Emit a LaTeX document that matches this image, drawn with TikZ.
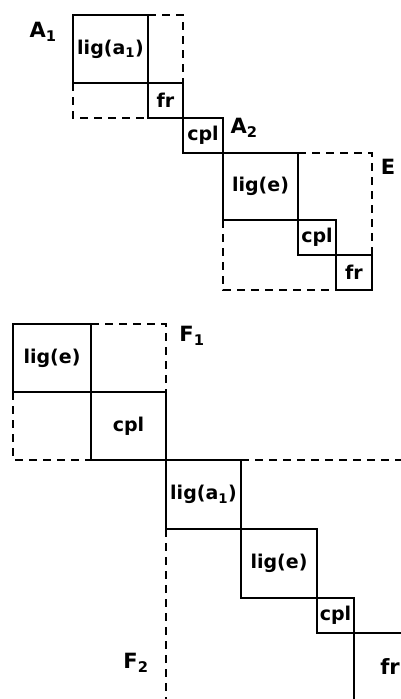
\documentclass[tikz,border=0pt]{standalone}
\usepackage{fontspec}
\setmainfont{DejaVu Sans}
\begin{document}
\begin{tikzpicture}[x=1pt,y=-1pt,
  blk/.style={draw, line width=2.6pt, anchor=north west, inner sep=0pt, outer sep=0pt,
    font=\fontsize{19}{21}\selectfont\bfseries},
  dsh/.style={line width=2.6pt, dash pattern=on 8pt off 6pt},
  sol/.style={line width=2.6pt},
  lbl/.style={font=\fontsize{21}{23}\selectfont\bfseries, inner sep=0pt}]
\useasboundingbox (0,0) rectangle (401,699);
\coordinate (rb) at (401,699);
% top diagram
\node[blk, minimum width=75pt, minimum height=68pt] (la1) at (73,15) {lig(a\textsubscript{1})};
\node[blk, minimum width=35pt, minimum height=35pt] (fr1) at (148,83) {fr};
\node[blk, minimum width=40pt, minimum height=35pt] (cpl1) at (183,118) {cpl};
\node[blk, minimum width=75pt, minimum height=67pt] (lige1) at (223,153) {lig(e)};
\node[blk, minimum width=38pt, minimum height=35pt] (cpl2) at (298,220) {cpl};
\node[blk, minimum width=36pt, minimum height=35pt] (fr2) at (336,255) {fr};
\draw[dsh] (la1.north east) -- (la1.north east -| fr1.east) -- (fr1.north east);
\draw[dsh] (la1.south west) -- (la1.west |- fr1.south) -- (fr1.south west);
\draw[dsh] (lige1.north east) -- (lige1.north east -| fr2.east) -- (fr2.north east);
\draw[dsh] (lige1.south west) -- (lige1.west |- fr2.south) -- (fr2.south west);
\node[lbl] (A1) at (43,32) {A\textsubscript{1}};
\node[lbl] (A2) at (244,128) {A\textsubscript{2}};
\node[lbl] (E) at (388,167) {E};
% bottom diagram
\node[blk, minimum width=78pt, minimum height=68pt] (lige3) at (13,324) {lig(e)};
\node[blk, minimum width=75pt, minimum height=68pt] (cpl3) at (91,392) {cpl};
\node[blk, minimum width=75pt, minimum height=69pt] (la2) at (166,460) {lig(a\textsubscript{1})};
\node[blk, minimum width=76pt, minimum height=69pt] (lige4) at (241,529) {lig(e)};
\node[blk, minimum width=37pt, minimum height=35pt] (cpl4) at (317,598) {cpl};
\node[lbl] (fr3) at (390,667) {fr};
\draw[sol] (cpl4.south east) -- (cpl4.south east -| rb);
\draw[sol] (cpl4.south east) -- (cpl4.south east |- rb);
\draw[dsh] (lige3.north east) -- (lige3.north east -| cpl3.east) -- (cpl3.north east);
\draw[dsh] (lige3.south west) -- (lige3.west |- cpl3.south) -- (cpl3.south west);
\draw[dsh] (la2.north east) -- (la2.north east -| rb);
\draw[dsh] (la2.south west) -- (la2.south west |- rb);
\node[lbl] (F1) at (192,336) {F\textsubscript{1}};
\node[lbl] (F2) at (136,663) {F\textsubscript{2}};
\end{tikzpicture}
\end{document}
